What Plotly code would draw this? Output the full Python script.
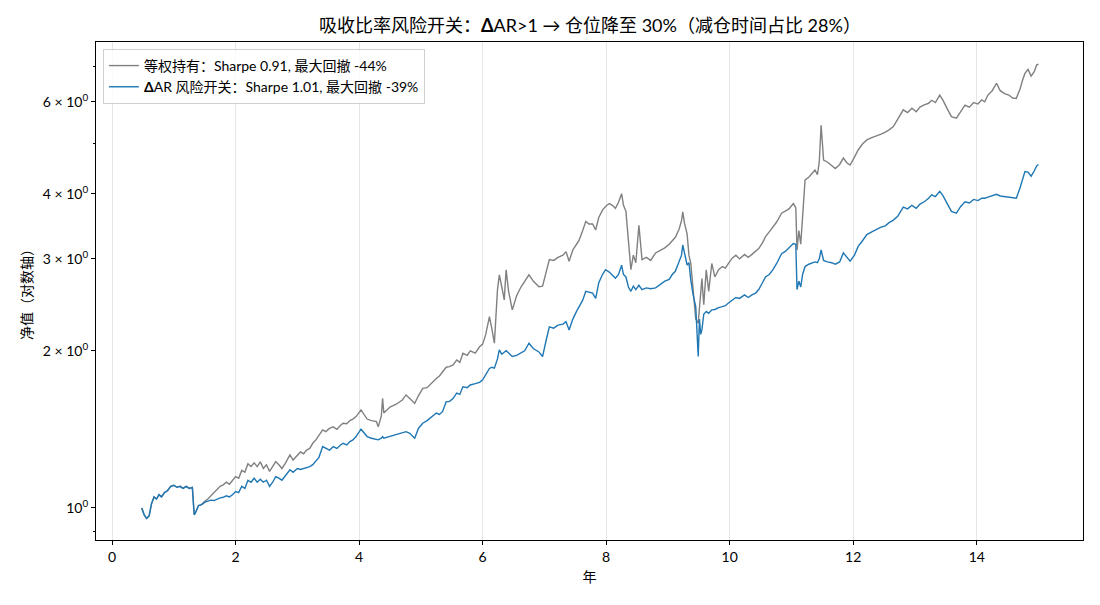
import math
import plotly.graph_objects as go

# ---- data ----
years = [0.48,0.52,0.56,0.60,0.64,0.68,0.72,0.76,0.80,0.85,0.90,0.95,1.00,1.05,1.10,1.15,1.20,1.25,1.30,1.33,1.36,1.40,1.45,
         1.50,1.55,1.60,1.65,1.70,1.75,1.80,1.85,1.90,1.95,2.00,2.05,2.10,2.15,2.20,2.25,2.30,2.35,2.40,2.45,2.50,2.55,2.60,
         2.65,2.70,2.75,2.80,2.88,2.93,3.00,3.05,3.10,3.15,3.20,3.25,3.30,3.35,3.41,3.46,3.52,3.58,3.64,3.70,3.74,3.80,3.85,
         3.90,3.95,4.03,4.08,4.13,4.20,4.28,4.31,4.36,4.38,4.40,4.50,4.60,4.70,4.76,4.82,4.90,4.96,5.03,5.10,5.19,5.25,5.30,
         5.35,5.41,5.46,5.52,5.58,5.63,5.68,5.75,5.80,5.88,5.95,6.00,6.05,6.11,6.15,6.19,6.24,6.27,6.31,6.35,6.38,6.42,6.48,
         6.55,6.62,6.68,6.75,6.82,6.91,6.97,7.03,7.08,7.15,7.22,7.30,7.35,7.40,7.46,7.52,7.56,7.62,7.67,7.72,7.78,7.83,7.88,
         7.94,7.99,8.05,8.10,8.15,8.20,8.25,8.28,8.32,8.36,8.40,8.44,8.48,8.53,8.58,8.65,8.72,8.80,8.88,8.95,9.02,9.07,9.12,
         9.18,9.22,9.24,9.27,9.31,9.34,9.37,9.41,9.45,9.49,9.51,9.53,9.55,9.58,9.62,9.66,9.71,9.76,9.82,9.88,9.93,9.98,10.04,
         10.10,10.16,10.24,10.30,10.36,10.42,10.47,10.53,10.58,10.64,10.70,10.76,10.84,10.90,10.96,11.03,11.07,11.09,11.12,
         11.15,11.18,11.22,11.28,11.33,11.38,11.42,11.45,11.48,11.50,11.52,11.58,11.65,11.71,11.78,11.84,11.90,11.95,12.02,
         12.08,12.15,12.22,12.30,12.38,12.45,12.52,12.58,12.65,12.72,12.81,12.88,12.95,13.02,13.08,13.15,13.22,13.27,13.33,
         13.40,13.45,13.52,13.59,13.67,13.74,13.81,13.88,13.95,14.02,14.08,14.13,14.18,14.25,14.32,14.38,14.45,14.52,14.58,
         14.64,14.70,14.75,14.78,14.83,14.88,14.93,14.97,15.00]

switch_nav = [1.00,0.97,0.955,0.965,1.02,1.05,1.04,1.06,1.05,1.07,1.08,1.10,1.105,1.095,1.10,1.09,1.10,1.09,1.095,0.97,0.985,1.01,1.015,
              1.025,1.03,1.035,1.033,1.04,1.045,1.048,1.055,1.05,1.06,1.075,1.07,1.10,1.09,1.13,1.12,1.14,1.12,1.135,1.12,1.13,1.10,1.12,
              1.148,1.14,1.13,1.15,1.183,1.17,1.19,1.185,1.19,1.195,1.20,1.21,1.23,1.25,1.311,1.30,1.29,1.31,1.30,1.32,1.33,1.32,1.34,
              1.35,1.37,1.415,1.39,1.37,1.36,1.354,1.35,1.36,1.37,1.36,1.37,1.38,1.39,1.40,1.39,1.36,1.42,1.453,1.47,1.50,1.52,1.51,
              1.529,1.598,1.598,1.62,1.66,1.65,1.707,1.70,1.72,1.73,1.74,1.76,1.80,1.85,1.86,1.853,1.93,2.008,1.97,1.99,2.00,1.98,1.95,
              1.96,1.98,2.00,2.068,2.02,1.99,1.95,2.10,2.223,2.21,2.24,2.25,2.275,2.193,2.30,2.38,2.43,2.50,2.60,2.59,2.58,2.52,2.70,
              2.80,2.86,2.83,2.79,2.754,2.80,2.918,2.80,2.77,2.65,2.60,2.66,2.62,2.67,2.62,2.64,2.63,2.64,2.68,2.72,2.74,2.80,2.84,
              2.96,3.05,3.19,3.05,2.92,2.95,2.73,2.55,2.43,1.95,2.30,2.15,2.193,2.35,2.38,2.36,2.396,2.40,2.42,2.43,2.44,2.47,2.50,
              2.53,2.52,2.56,2.53,2.56,2.58,2.62,2.70,2.77,2.80,2.86,2.94,3.07,3.10,3.15,3.21,3.20,2.62,2.72,
              2.65,2.80,2.90,2.93,2.95,2.96,2.95,3.00,3.12,3.05,2.98,2.96,2.95,2.93,2.96,3.08,3.02,2.97,3.05,
              3.17,3.25,3.34,3.38,3.42,3.45,3.47,3.52,3.56,3.62,3.77,3.74,3.80,3.75,3.82,3.86,3.92,3.98,3.95,
              4.04,3.97,3.82,3.70,3.67,3.78,3.86,3.84,3.90,3.88,3.92,3.92,3.94,3.96,3.99,3.96,3.95,3.94,3.93,
              3.92,4.10,4.30,4.41,4.40,4.32,4.42,4.52,4.55]

equal_nav = [1.00,0.97,0.955,0.965,1.02,1.05,1.04,1.06,1.05,1.07,1.08,1.10,1.105,1.095,1.10,1.09,1.10,1.09,1.095,0.97,0.985,1.01,1.015,
             1.03,1.04,1.055,1.07,1.085,1.10,1.107,1.12,1.11,1.13,1.148,1.14,1.18,1.17,1.215,1.20,1.22,1.20,1.225,1.19,1.21,1.175,1.20,
             1.227,1.21,1.19,1.215,1.263,1.235,1.26,1.28,1.27,1.291,1.30,1.33,1.35,1.38,1.411,1.40,1.42,1.43,1.415,1.44,1.453,1.45,1.47,
             1.48,1.496,1.541,1.51,1.48,1.47,1.464,1.43,1.50,1.622,1.52,1.56,1.58,1.61,1.646,1.62,1.587,1.64,1.695,1.70,1.745,1.77,1.79,
             1.82,1.86,1.865,1.88,1.92,1.90,1.978,1.96,2.00,1.98,2.036,2.06,2.15,2.326,2.20,2.068,2.616,2.796,2.65,2.504,2.859,2.60,2.396,
             2.55,2.65,2.72,2.796,2.72,2.653,2.66,2.85,2.99,2.98,3.02,3.05,3.098,2.97,3.12,3.20,3.254,3.40,3.54,3.50,3.50,3.41,3.60,
             3.72,3.78,3.83,3.80,3.75,3.85,4.00,3.80,3.70,3.30,2.86,3.05,2.95,3.48,2.99,3.02,2.98,3.08,3.12,3.15,3.20,3.25,3.30,
             3.42,3.55,3.69,3.50,3.35,3.05,2.94,2.60,2.30,2.26,2.40,2.55,2.75,2.45,2.86,2.60,2.94,2.77,2.86,2.90,2.88,2.94,3.01,
             3.05,3.00,3.06,3.02,3.06,3.10,3.14,3.22,3.31,3.38,3.45,3.53,3.67,3.70,3.74,3.83,3.76,3.12,3.40,
             3.20,3.60,4.25,4.30,4.38,4.44,4.35,4.60,5.41,4.90,4.64,4.60,4.52,4.47,4.55,4.68,4.58,4.54,4.70,
             4.85,4.98,5.07,5.12,5.16,5.20,5.25,5.30,5.38,5.55,5.79,5.72,5.83,5.74,5.86,5.92,5.96,6.04,5.98,
             6.18,6.05,5.82,5.62,5.58,5.76,5.91,5.86,5.98,5.94,6.05,6.00,6.18,6.30,6.51,6.30,6.22,6.18,6.10,
             6.09,6.35,6.65,6.80,6.92,6.72,6.85,7.06,7.08]

y_tick_vals = [1, 2, 3, 4, 6]
y_tick_text = ["10<sup>0</sup>", "2 × 10<sup>0</sup>", "3 × 10<sup>0</sup>",
               "4 × 10<sup>0</sup>", "6 × 10<sup>0</sup>"]
y_minor_vals = [0.9, 5, 7]
x_tick_vals = [0, 2, 4, 6, 8, 10, 12, 14]

label_equal = "等权持有：Sharpe 0.91, 最大回撤 -44%"
label_switch = "<b>Δ</b>AR 风险开关：Sharpe 1.01, 最大回撤 -39%"
title_text = "吸收比率风险开关：<b>Δ</b>AR>1 → 仓位降至 30%（减仓时间占比 28%）"

FONT = "Lato, 'Noto Sans CJK SC', sans-serif"

fig = go.Figure()
fig.add_trace(go.Scatter(x=years, y=equal_nav, mode="lines", name=label_equal,
                         line=dict(color="#808080", width=1.4)))
fig.add_trace(go.Scatter(x=years, y=switch_nav, mode="lines", name=label_switch,
                         line=dict(color="#1f77b4", width=1.4)))

# horizontal grid line only at the major decade (10^0)
fig.add_shape(type="line", xref="paper", x0=0, x1=1, yref="y", y0=0, y1=0,
              line=dict(color="#e6e6e6", width=1), layer="below")

fig.update_layout(
    width=1100, height=605,
    margin=dict(l=96, r=17, t=42, b=65),
    paper_bgcolor="white", plot_bgcolor="white",
    font=dict(family=FONT, size=13, color="black"),
    title=dict(text=title_text, x=0.5363, xanchor="center", y=0.958, yanchor="middle",
               font=dict(family=FONT, size=18, color="black")),
    showlegend=True,
    legend=dict(x=0.007, y=0.986, xanchor="left", yanchor="top",
                bgcolor="rgba(255,255,255,0.8)", bordercolor="#d0d0d0", borderwidth=1,
                font=dict(family=FONT, size=14), tracegroupgap=0, itemwidth=30),
    xaxis=dict(range=[-0.26, 15.72], tickmode="array", tickvals=x_tick_vals,
               showgrid=True, gridcolor="#e6e6e6", gridwidth=1, zeroline=False,
               showline=True, linecolor="black", linewidth=1, mirror=True,
               ticks="outside", ticklen=4, tickcolor="black",
               tickfont=dict(family=FONT, size=14),
               title=dict(text="年", font=dict(family=FONT, size=14), standoff=8)),
    yaxis=dict(type="log", range=[math.log10(0.868), math.log10(7.81)],
               tickmode="array", tickvals=y_tick_vals, ticktext=y_tick_text,
               showgrid=False, zeroline=False,
               showline=True, linecolor="black", linewidth=1, mirror=True,
               ticks="outside", ticklen=4, tickcolor="black",
               tickfont=dict(family=FONT, size=14),
               minor=dict(tickmode="array", tickvals=y_minor_vals, ticks="outside",
                          ticklen=2.5, tickcolor="black", showgrid=False),
               title=dict(text="净值（对数轴）", font=dict(family=FONT, size=14), standoff=6)),
)

fig.write_html("out.html")
